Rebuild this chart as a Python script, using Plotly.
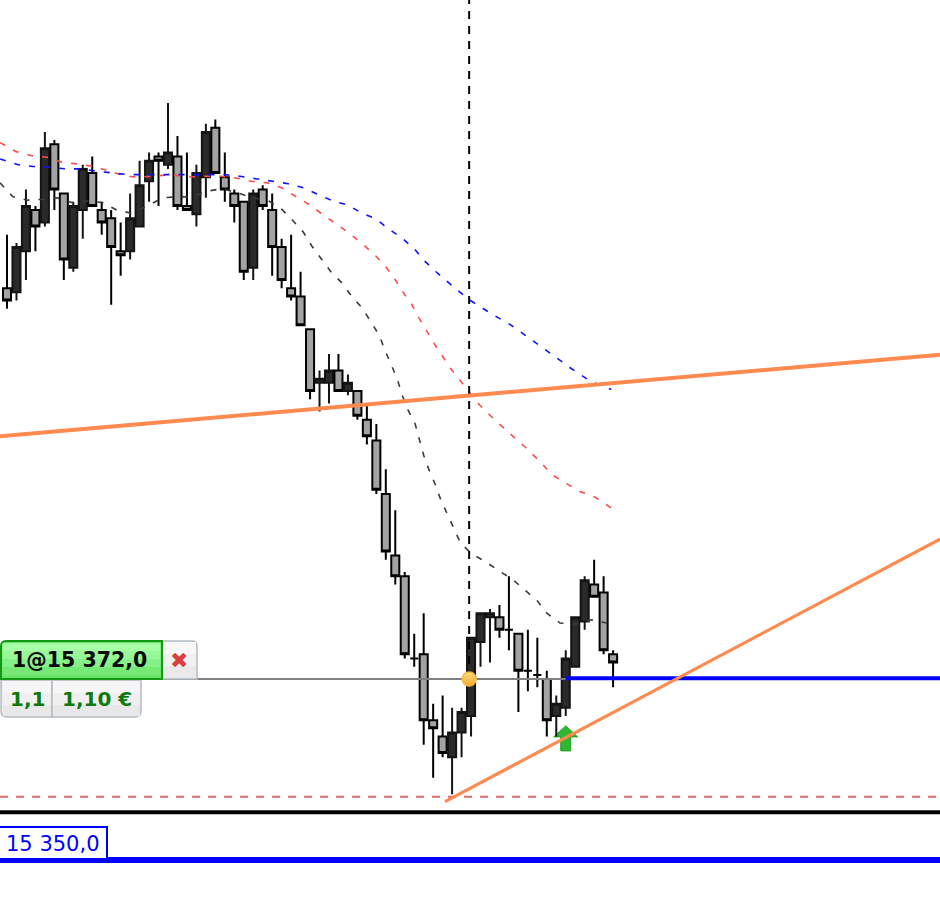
import plotly.graph_objects as go

bars = list(range(65))
opens = [15419.5,15419,15424,15429,15427.5,15437,15431,15422,15429,15433.5,15429,15428,15424,15424,15427,15432.5,15435.5,15434.5,15435.5,15429.5,15428.5,15433,15439,15433,15431,15430,15422,15431.5,15429,15424.5,15419.5,15418.5,15414.5,15408,15408,15409.5,15407,15407,15403.5,15401,15394.5,15387,15384.5,15374.5,15375,15367,15365,15362.5,15365.5,15367.5,15376.5,15379.5,15379.5,15378,15377.5,15373,15372.5,15372,15367.5,15368.5,15373.5,15379,15383.5,15382.5,15375]
closes = [15418,15424.5,15429.5,15427,15436.5,15431.5,15423,15429.5,15434,15429.5,15427.5,15424.5,15423.5,15428,15432,15435,15435,15436,15429.5,15429,15433.5,15438.5,15433.5,15431.5,15429.5,15421.5,15431,15429.5,15424.5,15420.5,15418.5,15415,15407,15408.5,15409.5,15407,15408,15404,15401.5,15395,15387.5,15384.5,15375,15374.5,15367,15366,15363,15365.5,15368,15377,15380,15380,15378,15378,15373,15373,15372.5,15367,15369,15374.5,15379.5,15384,15382,15375.5,15374]
highs = [15426,15425,15431.5,15429.5,15438.5,15437.5,15431,15430,15434.5,15435.5,15430,15429,15427.5,15431,15435,15436,15436,15442,15438,15436,15434.5,15439.5,15440,15436,15431.5,15430,15431.5,15432,15431,15425.5,15426,15421.5,15414.5,15409.5,15411.5,15411.5,15409,15407,15405.5,15403,15397.5,15392.5,15385,15377.5,15380,15369,15370,15368.5,15368.5,15377,15380,15380.5,15381,15384.5,15377.5,15378,15377,15373,15370,15375.5,15379.5,15384.5,15386.5,15384.5,15375.5]
lows = [15417,15418,15420.5,15424,15427,15429,15420.5,15421.5,15425.5,15429.5,15426,15417.5,15421,15423,15427,15430,15429.5,15434,15429,15429,15427,15430.5,15433.5,15430,15427.5,15420.5,15420.5,15429,15421,15419.5,15418,15415,15406,15404.5,15405.5,15407,15406.5,15403.5,15400.5,15394.5,15386.5,15383.5,15374.5,15373.5,15364,15360,15362.5,15358,15362.5,15365,15373.5,15374,15377,15375.5,15368,15370.5,15371,15365,15365,15367.5,15373.5,15378,15382,15375,15371]

ma_gray_x = [-0.74,0.63,2.2,3.7,5.3,6.9,8.6,10.1,11.6,13.2,14.8,16.5,18,19.5,21.2,22.7,24.3,25.9,27.5,29,30.2,31.3,32.2,33.1,34.2,35.4,36.4,37.5,38.4,39.3,39.9,40.5,41.2,41.7,42.3,43.1,43.5,44,44.5,45.2,45.8,46.5,47.2,47.9,49.1,50.6,52,53.3,54.7,56,57,58.4,60,61.7,63.3]
ma_gray_y = [15432.3,15430.6,15430.2,15430.3,15430.5,15429.9,15430.1,15429.9,15429,15428.6,15429.5,15430.5,15430.6,15430.6,15431.3,15431.6,15431.1,15430.5,15430.2,15429.1,15427.7,15426.3,15424.6,15423.2,15421.5,15420.1,15418.5,15417.1,15415.4,15413.8,15412,15410.3,15408.5,15406.6,15404.8,15403,15401.2,15399.2,15397.6,15395.7,15393.8,15392.1,15390.2,15388.5,15387.2,15386.2,15385.1,15384.2,15382.8,15381.5,15380,15378.8,15378.7,15379.2,15378.8]
ma_red_x = [-0.74,0.95,2.6,4.3,5.8,7.5,9.2,10.9,12.6,14.1,15.6,17.4,19.1,20.7,22.5,24.2,25.8,27.5,29,30.5,32,33.3,34.7,36,37.4,38.6,39.8,40.8,41.7,42.7,43.5,44.4,45.2,46.8,48.4,49.9,51.5,53.1,54.7,56.3,57.6,59,60.5,62.1,63.8]
ma_red_y = [15437.2,15436.1,15435.6,15435.4,15434.8,15434.6,15434.3,15433.7,15433.1,15433,15433.1,15433.3,15433,15433.1,15433.1,15432.9,15432.5,15432.3,15431.7,15430.7,15429.6,15428.5,15427.4,15426.3,15425,15423.8,15422.4,15420.9,15419.2,15417.6,15415.9,15414.2,15412.6,15409.8,15407.4,15405.3,15403.5,15401.9,15400.2,15398.4,15396.8,15395.8,15394.8,15394.1,15392.8]
ma_blue_x = [-0.74,1.2,2.7,4.5,6.2,7.9,9.5,11.2,12.9,14.5,16.3,18,19.6,21.2,23,24.6,26.3,28,29.7,31.3,32.8,34.4,36,37.5,39,40.3,41.7,43,44.1,45.3,46.9,48.8,51,53.1,55.2,57.3,59.5,61.6,63.8]
ma_blue_y = [15435.2,15434.5,15434.3,15434.2,15434,15434,15433.7,15433.5,15433.3,15433.3,15433.3,15433.3,15433.3,15433.3,15433.3,15433.1,15432.8,15432.5,15432.2,15431.7,15430.9,15430.1,15429.6,15428.6,15427.9,15426.7,15425.6,15424.3,15422.8,15421.5,15419.9,15418.1,15416.5,15415.1,15413.4,15411.6,15409.8,15408.2,15407.2]

trend_a_x = [-0.74, 98.52]
trend_a_y = [15401.5, 15411.4]
trend_b_x = [46.25, 98.52]
trend_b_y = [15357.1, 15389.0]

entry_price = 15372
entry_bar = 48.8
signal_bar = 59
limit_price = 15350
stop_dash_price = 15357.7
black_level = 15355.8
axis_left, axis_right = -0.74, 98.52
price_low, price_high = 15342.95, 15454.53

entry_text = "1@15 372,0"
qty_text = "1,1"
pnl_text = "1,10 €"
limit_text = "15 350,0"
close_text = "✖"

W, H = 940, 918


def px(x):
    return x / W


def py(y):
    return 1 - y / H


def rrect(x0, y0, x1, y1, tl=0, tr=0, br=0, bl=0):
    X0, X1, Y0, Y1 = px(x0), px(x1), py(y0), py(y1)
    def xo(r): return r / W
    def yo(r): return r / H
    return (f"M {X0+xo(tl)},{Y0} L {X1-xo(tr)},{Y0} Q {X1},{Y0} {X1},{Y0-yo(tr)} "
            f"L {X1},{Y1+yo(br)} Q {X1},{Y1} {X1-xo(br)},{Y1} L {X0+xo(bl)},{Y1} "
            f"Q {X0},{Y1} {X0},{Y1+yo(bl)} L {X0},{Y0-yo(tl)} Q {X0},{Y0} {X0+xo(tl)},{Y0} Z")


fig = go.Figure()

fig.add_trace(go.Candlestick(
    x=bars, open=opens, high=highs, low=lows, close=closes,
    whiskerwidth=0,
    increasing=dict(line=dict(color="#141414", width=2), fillcolor="#2a2a2a"),
    decreasing=dict(line=dict(color="#000000", width=2), fillcolor="#a3a3a3"),
    showlegend=False, hoverinfo="skip",
))

for xs, ys, col in [(ma_gray_x, ma_gray_y, "#3a3a3a"), (ma_red_x, ma_red_y, "#ff4a4a"), (ma_blue_x, ma_blue_y, "#1010ff")]:
    fig.add_trace(go.Scatter(x=xs, y=ys, mode="lines", showlegend=False, hoverinfo="skip",
                             line=dict(color=col, width=1.6, dash="6px,9px")))

# order and level lines
fig.add_trace(go.Scatter(x=[entry_bar, entry_bar], y=[entry_price, price_high], mode="lines", showlegend=False,
                         hoverinfo="skip", line=dict(color="#000000", width=2, dash="8px,7px")))
fig.add_trace(go.Scatter(x=[axis_left, signal_bar], y=[entry_price, entry_price], mode="lines", showlegend=False,
                         hoverinfo="skip", line=dict(color="#808080", width=2)))
fig.add_trace(go.Scatter(x=[signal_bar, axis_right], y=[entry_price + 0.1, entry_price + 0.1], mode="lines", showlegend=False,
                         hoverinfo="skip", line=dict(color="#0000ff", width=4)))
fig.add_trace(go.Scatter(x=[axis_left, axis_right], y=[stop_dash_price, stop_dash_price], mode="lines", showlegend=False,
                         hoverinfo="skip", line=dict(color="#e06a6a", width=2, dash="8px,8px")))
fig.add_trace(go.Scatter(x=[axis_left, axis_right], y=[black_level, black_level], mode="lines", showlegend=False,
                         hoverinfo="skip", line=dict(color="#000000", width=4)))
fig.add_trace(go.Scatter(x=[axis_left, axis_right], y=[limit_price, limit_price], mode="lines", showlegend=False,
                         hoverinfo="skip", line=dict(color="#0000ff", width=6)))

for xs, ys, lw in [(trend_a_x, trend_a_y, 4), (trend_b_x, trend_b_y, 3.2)]:
    fig.add_trace(go.Scatter(x=xs, y=ys, mode="lines", showlegend=False, hoverinfo="skip",
                             line=dict(color="#ff8a50", width=lw)))

fig.add_trace(go.Scatter(x=[entry_bar], y=[entry_price], mode="markers", showlegend=False, hoverinfo="skip",
                         marker=dict(size=14, color="#ffdd80", line=dict(color="#f4b840", width=1.5),
                                     gradient=dict(type="vertical", color="#f2a830"))))

shapes = [
    dict(type="path", xref="x", yref="y", xsizemode="pixel", ysizemode="pixel",
         xanchor=signal_bar, yanchor=15366.3, layer="below",
         path="M 0,0 L 12,-11 L 5,-11 L 5,-25 L -5,-25 L -5,-11 L -12,-11 Z",
         fillcolor="#2fb82f", line=dict(color="#22a022", width=1)),
]

def pshape(path, fill, line_col=None, lw=1):
    shapes.append(dict(type="path", xref="paper", yref="paper", layer="above", path=path, fillcolor=fill,
                       line=dict(color=line_col or "rgba(0,0,0,0)", width=lw if line_col else 0)))

# close button and lower cells
pshape(rrect(140, 641, 197, 679, tr=5), "#ececec", "#b4bcc4", 1.5)
pshape(rrect(1, 680, 52, 717, bl=6), "#ececec", "#b4bcc4", 1.5)
pshape(rrect(52, 680, 141, 717, br=6), "#ececec", "#b4bcc4", 1.5)
for t, c in [(641, "#f7f7f7"), (653, "#f1f1f1"), (666, "#e9e9e9")]:
    pshape(rrect(164, t + 1, 196, min(t + 13, 678)), c)
for t, c in [(681, "#f6f6f6"), (693, "#f0f0f0"), (705, "#e8e8e8")]:
    pshape(rrect(3, t, 51, min(t + 12, 716)), c)
    pshape(rrect(53, t, 140, min(t + 12, 716)), c)
# green entry label with stripes
pshape(rrect(1, 641, 162, 679, tl=5), "#66e066", "#139913", 2)
for t, c in [(643, "#a6ffa6"), (651, "#98f898"), (659, "#88f088"), (667, "#76e876")]:
    pshape(rrect(2.5, t, 160.5, min(t + 8.5, 678)), c)
# limit box
pshape(rrect(-3, 827, 107, 859, ), "#ffffff", "#0000ff", 2)

annotations = [
    dict(text=entry_text, x=px(79.5), y=py(660), color="#0b0b0b", size=20.5, bold=True),
    dict(text=close_text, x=px(179), y=py(660), color="#d8403f", size=22, bold=True),
    dict(text=qty_text, x=px(27), y=py(699), color="#0d7a0d", size=20, bold=True),
    dict(text=pnl_text, x=px(97), y=py(699), color="#0d7a0d", size=20, bold=True),
    dict(text=limit_text, x=px(52.5), y=py(844), color="#0000ff", size=21, bold=False),
]
ann = []
for a in annotations:
    t = f"<b>{a['text']}</b>" if a["bold"] else a["text"]
    ann.append(dict(text=t, x=a["x"], y=a["y"], xref="paper", yref="paper", xanchor="center", yanchor="middle",
                    showarrow=False, font=dict(family="DejaVu Sans", size=a["size"], color=a["color"])))

fig.update_layout(
    width=W, height=H, autosize=False,
    margin=dict(l=0, r=0, t=0, b=0, pad=0),
    paper_bgcolor="#ffffff", plot_bgcolor="#ffffff",
    boxgap=0.15, boxgroupgap=0, showlegend=False,
    shapes=shapes, annotations=ann,
    xaxis=dict(range=[axis_left, axis_right], visible=False, rangeslider=dict(visible=False), fixedrange=True),
    yaxis=dict(range=[price_low, price_high], visible=False, fixedrange=True),
)

fig.write_html("out.html", post_script="document.body.style.margin='0';document.body.style.overflow='hidden';",
               config=dict(displayModeBar=False))
